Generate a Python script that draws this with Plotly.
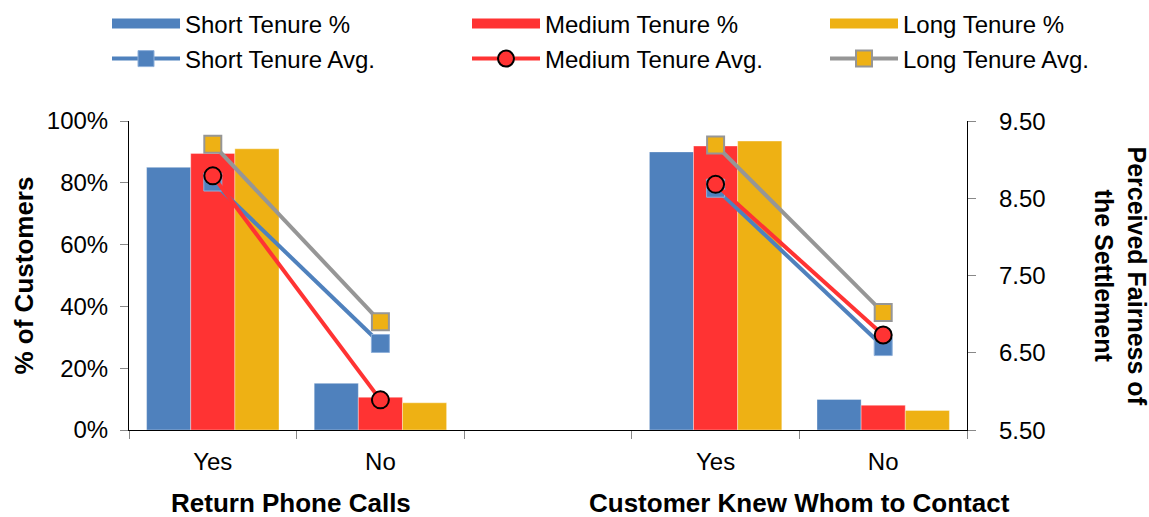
import plotly.graph_objects as go

# ---------------- data ----------------
categories = ["Yes", "No", " ", "Yes ", "No "]
tick_labels = ["Yes", "No", "", "Yes", "No"]

short_pct = [0.85, 0.151, None, 0.90, 0.099]
medium_pct = [0.895, 0.106, None, 0.919, 0.080]
long_pct = [0.91, 0.088, None, 0.935, 0.063]

short_avg = [8.71, 6.62, None, 8.63, 6.58]
medium_avg = [8.79, 5.89, None, 8.68, 6.73]
long_avg = [9.20, 6.90, None, 9.19, 7.02]

group_titles = ["Return Phone Calls", "Customer Knew Whom to Contact"]
left_ticks = [0, 0.2, 0.4, 0.6, 0.8, 1.0]
right_ticks = [5.5, 6.5, 7.5, 8.5, 9.5]
right_range = [5.5, 9.5]

# ---------------- style ----------------
BLUE = "#4F81BD"
RED = "#FF3333"
GOLD = "#EEB114"
GRAY = "#969696"
FONT = "Liberation Sans, Arial, sans-serif"
FS = 24
FSB = 26

W, H = 1149, 517
L, R, T, B = 129, 182, 121, 87
PW, PH = W - L - R, H - T - B

fig = go.Figure()

bar_line = dict(width=1, color="rgba(255,255,255,0.35)")
for name, vals, col, lg in [("Short Tenure %", short_pct, BLUE, "legend"),
                            ("Medium Tenure %", medium_pct, RED, "legend2"),
                            ("Long Tenure %", long_pct, GOLD, "legend3")]:
    fig.add_trace(go.Bar(x=categories, y=vals, name=name, marker=dict(color=col, line=bar_line),
                         showlegend=False))
    # legend-only wide swatch
    fig.add_trace(go.Scatter(x=[None], y=[None], mode="lines", name=name,
                             line=dict(color=col, width=12), legend=lg, showlegend=True))

fig.add_trace(go.Scatter(x=categories, y=short_avg, yaxis="y2", name="Short Tenure Avg.",
                         mode="lines+markers", line=dict(color=BLUE, width=4),
                         marker=dict(symbol="square", size=18, color=BLUE,
                                     line=dict(width=1, color="#8FB0DA")),
                         legend="legend4"))
fig.add_trace(go.Scatter(x=categories, y=medium_avg, yaxis="y2", name="Medium Tenure Avg.",
                         mode="lines+markers", line=dict(color=RED, width=4),
                         marker=dict(symbol="circle", size=17, color=RED,
                                     line=dict(width=2, color="black")),
                         legend="legend5"))
fig.add_trace(go.Scatter(x=categories, y=long_avg, yaxis="y2", name="Long Tenure Avg.",
                         mode="lines+markers", line=dict(color=GRAY, width=4),
                         marker=dict(symbol="square", size=17, color=GOLD,
                                     line=dict(width=2, color=GRAY)),
                         legend="legend6"))

def leg(xpx, ypx):
    return dict(xref="container", yref="container", x=xpx / W, y=1 - ypx / H,
                xanchor="left", yanchor="middle", orientation="v",
                bgcolor="rgba(0,0,0,0)", borderwidth=0, itemwidth=68,
                font=dict(family=FONT, size=FS, color="black"), itemclick=False)

col_x = [107, 467, 825]
row_y = [24, 59]

fig.update_layout(
    width=W, height=H,
    margin=dict(l=L, r=R, t=T, b=B, autoexpand=False),
    paper_bgcolor="white", plot_bgcolor="white",
    font=dict(family=FONT, size=FS, color="black"),
    barmode="group", bargap=0.21, bargroupgap=0,
    legend=leg(col_x[0], row_y[0]),
    legend2=leg(col_x[1], row_y[0]),
    legend3=leg(col_x[2], row_y[0]),
    legend4=leg(col_x[0], row_y[1]),
    legend5=leg(col_x[1], row_y[1]),
    legend6=leg(col_x[2], row_y[1]),
    xaxis=dict(type="category", categoryorder="array", categoryarray=categories,
               tickmode="array", tickvals=categories, ticktext=tick_labels,
               tickson="boundaries", ticks="outside", ticklen=8, tickcolor="#888888",
               showline=True, linecolor="black", linewidth=1, showgrid=False,
               tickfont=dict(size=FS), ticklabelstandoff=10),
    yaxis=dict(range=[0, 1], tickvals=left_ticks, tickformat=".0%",
               ticks="outside", ticklen=8, tickcolor="#888888",
               showline=True, linecolor="black", linewidth=1, showgrid=False, zeroline=False,
               tickfont=dict(size=FS), ticklabelstandoff=7),
    yaxis2=dict(overlaying="y", side="right", range=right_range, tickvals=right_ticks,
                showticklabels=False, ticks="outside", ticklen=8, tickcolor="#888888",
                showline=True, linecolor="black", linewidth=1, showgrid=False, zeroline=False),
)

# right-axis tick labels, placed on the y2 scale
for v in right_ticks:
    fig.add_annotation(text=f"{v:.2f}", xref="paper", yref="y2",
                       x=(997 - L) / PW, y=v, xanchor="left", yanchor="middle",
                       showarrow=False, font=dict(size=FS, family=FONT, color="black"))

fig.add_annotation(text="<b>% of Customers</b>", textangle=-90,
                   xref="paper", yref="paper", x=(23 - L) / PW, y=0.5,
                   xanchor="center", yanchor="middle", showarrow=False,
                   font=dict(size=FSB, family=FONT, color="black"))
fig.add_annotation(text="<b>Perceived Fairness of<br>the Settlement</b>", textangle=90,
                   xref="paper", yref="paper", x=(1120 - L) / PW, y=0.5,
                   xanchor="center", yanchor="middle", showarrow=False,
                   font=dict(size=25, family=FONT, color="black"))
for txt, cx in zip(group_titles, [291, 799]):
    fig.add_annotation(text="<b>" + txt + "</b>", xref="paper", yref="paper",
                       x=(cx - L) / PW, y=(430 - 503) / PH,
                       xanchor="center", yanchor="middle", showarrow=False,
                       font=dict(size=FSB, family=FONT, color="black"))

fig.write_html("out.html", config={"displayModeBar": False},
               post_script="document.body.style.margin='0px';")
